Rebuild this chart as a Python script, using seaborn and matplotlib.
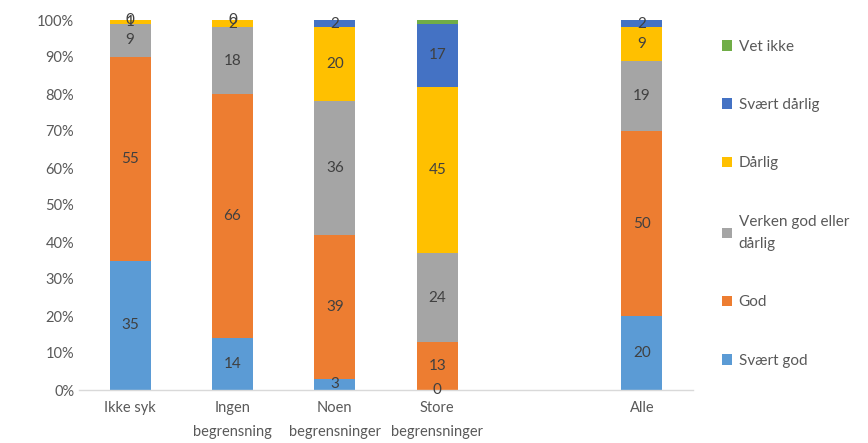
import matplotlib
matplotlib.use("Agg")
import matplotlib.pyplot as plt
import seaborn as sns
import pandas as pd
import numpy as np
from matplotlib.patches import Patch

categories = ["Ikke syk", "Ingen\nbegrensning", "Noen\nbegrensninger", "Store\nbegrensninger", "Alle"]
order = ["Ikke syk", "Ingen\nbegrensning", "Noen\nbegrensninger", "Store\nbegrensninger", " ", "Alle"]

series_names = ["Svært god", "God", "Verken god eller\ndårlig", "Dårlig", "Svært dårlig", "Vet ikke"]
svaert_god = [35, 14, 3, 0, 20]
god = [55, 66, 39, 13, 50]
verken = [9, 18, 36, 24, 19]
darlig = [1, 2, 20, 45, 9]
svaert_darlig = [0, 0, 2, 17, 2]
vet_ikke = [0, 0, 0, 1, 0]
show_label = [True, True, True, True, True, False]

colors = ["#5B9BD5", "#ED7D31", "#A5A5A5", "#FFC000", "#4472C4", "#70AD47"]

series = [svaert_god, god, verken, darlig, svaert_darlig, vet_ikke]
vals = np.array(series, dtype=float)
cum = np.cumsum(vals, axis=0)

sns.set_style("white")
plt.rcParams["font.family"] = ["Lato", "DejaVu Sans"]
text_col = "#595959"

fig = plt.figure(figsize=(8.68, 4.43), dpi=100)
ax = fig.add_axes([79 / 868, (443 - 390) / 443, 614 / 868, 370 / 443])

# draw cumulative bars from top series down so lower layers cover upper ones
for i in range(len(series) - 1, -1, -1):
    df = pd.DataFrame({"cat": categories, "val": cum[i]})
    sns.barplot(data=df, x="cat", y="val", order=order, color=colors[i],
                width=0.4, saturation=1, ax=ax, errorbar=None, linewidth=0)

# data labels
for i in range(len(series)):
    if not show_label[i]:
        continue
    for j, cat in enumerate(categories):
        xpos = order.index(cat)
        ypos = cum[i][j] - vals[i][j] / 2
        ax.text(xpos, ypos, f"{int(vals[i][j])}", ha="center", va="center",
                fontsize=11, color="#404040")

ax.set_ylim(0, 100)
ax.set_xlim(-0.5, len(order) - 0.5)
ax.set_yticks(np.arange(0, 101, 10))
ax.set_yticklabels([f"{v}%" for v in range(0, 101, 10)])
ax.set_xlabel("")
ax.set_ylabel("")
ax.tick_params(axis="both", length=0, labelsize=10.5, colors=text_col)
ax.tick_params(axis="x", pad=8)
for lbl in ax.get_xticklabels():
    lbl.set_linespacing(1.9)
for s in ["top", "right", "left"]:
    ax.spines[s].set_visible(False)
ax.spines["bottom"].set_color("#D9D9D9")
ax.spines["bottom"].set_linewidth(1)
ax.grid(False)

handles = [Patch(facecolor=colors[i], edgecolor="none", label=series_names[i])
           for i in range(len(series) - 1, -1, -1)]
leg = fig.legend(handles=handles, loc="upper left", bbox_to_anchor=(708 / 868, 1 - 26 / 443),
                 frameon=False, fontsize=11, handlelength=0.7, handleheight=0.7,
                 handletextpad=0.4, labelspacing=2.9, labelcolor=text_col)
for t in leg.get_texts():
    t.set_linespacing(1.75)

fig.savefig("out.png", dpi=100)
